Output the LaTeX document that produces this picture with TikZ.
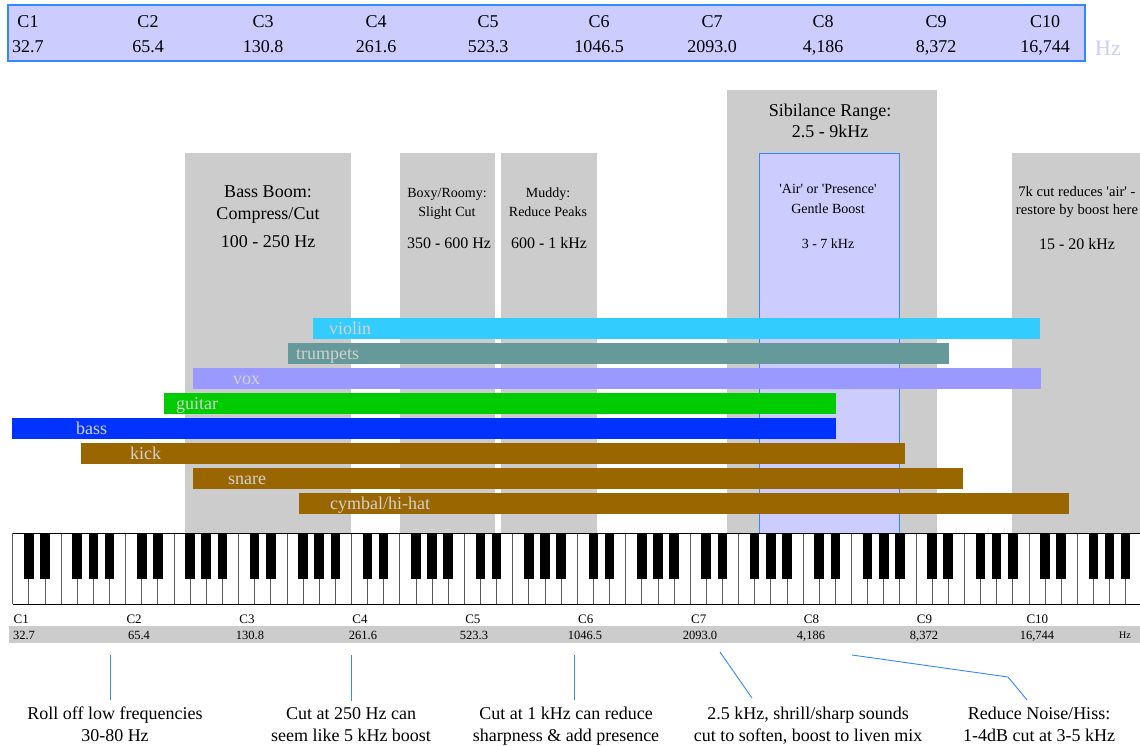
\documentclass[tikz,border=0pt]{standalone}
\usepackage{fontspec}
\setmainfont{Liberation Serif}[Ligatures=TeXOff]
\usetikzlibrary{positioning}
\definecolor{lav}{HTML}{CCCCFF}
\definecolor{edgeblue}{HTML}{3388FF}
\definecolor{zone}{HTML}{CCCCCC}
\definecolor{barlabel}{HTML}{D2D2D2}
\definecolor{violinc}{HTML}{33CCFF}
\definecolor{trumpetc}{HTML}{669999}
\definecolor{voxc}{HTML}{9999FF}
\definecolor{guitarc}{HTML}{00CC00}
\definecolor{bassc}{HTML}{0033FF}
\definecolor{drumc}{HTML}{996600}
\tikzset{
  big/.style={font=\fontsize{18}{22}\selectfont, inner sep=0pt, anchor=base},
  mid/.style={font=\fontsize{16}{19}\selectfont, inner sep=0pt, anchor=base},
  small/.style={font=\fontsize{14}{17}\selectfont, inner sep=0pt, anchor=base},
  keylab/.style={font=\fontsize{13}{15}\selectfont, inner sep=0pt, anchor=base},
  barname/.style={font=\fontsize{18}{22}\selectfont, text=barlabel, inner sep=0pt, anchor=base west},
  callout/.style={draw=edgeblue, line width=0.9pt}
}
\begin{document}
\begin{tikzpicture}[x=1pt,y=-1pt]
  \useasboundingbox[fill=white] (0,0) rectangle (1140,745);
  % note names and frequencies on top
  \draw[edgeblue, fill=lav, line width=1.2pt] (8,5) rectangle (1085,61);
  \foreach \n/\x/\f in {1/28/32.7, 2/148/65.4, 3/263/130.8, 4/376/261.6, 5/488/523.3,
      6/599/1046.5, 7/712/2093.0, 8/823/{4,186}, 9/936/{8,372}, 10/1045/{16,744}} {
    \node[big] (topC\n) at (\x,27) {C\n};
    \node[big] (topF\n) at (\x,52) {\f};
  }
  \node[font=\fontsize{22}{24}\selectfont, text=lav, inner sep=0pt, anchor=base] (tophz) at (1108,55) {Hz};
  % zones
  \fill[zone] (185,153) rectangle (351,533);
  \fill[zone] (400,153) rectangle (495,533);
  \fill[zone] (501,153) rectangle (597,533);
  \fill[zone] (727,90) rectangle (937,533);
  \draw[edgeblue, fill=lav, line width=1pt] (759,153) rectangle (899,533);
  \fill[zone] (1012,153) rectangle (1140,533);
  \node[big] (boom1) at (268,197) {Bass Boom:};
  \node[big] (boom2) at (268,219) {Compress/Cut};
  \node[big] (boomhz) at (268,247) {100 - 250 Hz};
  \node[small] (boxy1) at (447,197) {Boxy/Roomy:};
  \node[small] (boxy2) at (447,216) {Slight Cut};
  \node[mid] (boxyhz) at (449,248) {350 - 600 Hz};
  \node[small] (mud1) at (548,197) {Muddy:};
  \node[small] (mud2) at (548,216) {Reduce Peaks};
  \node[mid] (mudhz) at (549,248) {600 - 1 kHz};
  \node[big] (sib1) at (830,116) {Sibilance Range:};
  \node[big] (sib2) at (830,137) {2.5 - 9kHz};
  \node[small] (air1) at (828,193) {'Air' or 'Presence'};
  \node[small] (air2) at (828,213) {Gentle Boost};
  \node[small] (airhz) at (828,248) {3 - 7 kHz};
  \node[small, font=\fontsize{14.6}{17}\selectfont] (cut1) at (1077,196) {7k cut reduces 'air' -};
  \node[small, font=\fontsize{14.6}{17}\selectfont] (cut2) at (1077,214) {restore by boost here};
  \node[mid] (cuthz) at (1077,249) {15 - 20 kHz};
  % instrument ranges
  \foreach \r/\lx/\rx/\c/\tx/\nm in {0/313/1040/violinc/329/violin, 1/288/949/trumpetc/296/trumpets,
      2/193/1041/voxc/233/vox, 3/164/836/guitarc/176/guitar, 4/12/836/bassc/76/bass,
      5/81/905/drumc/130/kick, 6/193/963/drumc/228/snare, 7/299/1069/drumc/330/{cymbal/hi-hat}} {
    \fill[\c] (\lx,318+25*\r) rectangle (\rx,339+25*\r);
    \node[barname] (bar\r) at (\tx,334.5+25*\r) {\nm};
  }
  % keyboard
  \fill[white] (12.7,533) rectangle (1140,604);
  \foreach \k in {0,...,69}
    \draw[black!65, line width=0.8pt] (12.7+16.13*\k,533) -- ++(0,71);
  \foreach \o in {0,...,9}
    \foreach \b in {1,2,4,5,6}
      \fill[black] (12.7+16.13*7*\o+16.13*\b-4.8,533) rectangle ++(9.6,46);
  \draw[line width=1pt] (12.7,533) -- (1140,533);
  \draw[line width=1pt] (12.7,604) -- (1140,604);
  % frequencies under the keys
  \fill[zone] (9,626) rectangle (1140,643);
  \foreach \n/\x/\f in {1/24/32.7, 2/139/65.4, 3/250/130.8, 4/363/261.6, 5/474/523.3,
      6/585/1046.5, 7/700/2093.0, 8/811/{4,186}, 9/924/{8,372}, 10/1037/{16,744}} {
    \node[keylab] (keyC\n) at (12.7+112.91*\n-112.91+8.5,623) {C\n};
    \node[keylab, font=\fontsize{12.5}{14}\selectfont] (keyF\n) at (\x,639) {\f};
  }
  \node[keylab, font=\fontsize{10}{12}\selectfont] (keyhz) at (1125,638) {Hz};
  % tips
  \node[big] (roll1) at (115,719) {Roll off low frequencies};
  \node[big] (roll2) at (115,741) {30-80 Hz};
  \node[big] (boost1) at (351,719) {Cut at 250 Hz can};
  \node[big] (boost2) at (351,741) {seem like 5 kHz boost};
  \node[big] (sharp1) at (566,719) {Cut at 1 kHz can reduce};
  \node[big] (sharp2) at (566,741) {sharpness \& add presence};
  \node[big] (shrill1) at (808,719) {2.5 kHz, shrill/sharp sounds};
  \node[big] (shrill2) at (808,741) {cut to soften, boost to liven mix};
  \node[big] (hiss1) at (1039,719) {Reduce Noise/Hiss:};
  \node[big] (hiss2) at (1039,741) {1-4dB cut at 3-5 kHz};
  \coordinate (rolltop) at (110,655);
  \coordinate (boosttop) at (351,655);
  \coordinate (sharptop) at (574,655);
  \coordinate (shrilltop) at (720,652);
  \coordinate (shrillfoot) at (752,698);
  \coordinate (hisstop) at (852,655);
  \coordinate (hissbend) at (1008,677);
  \coordinate (hissfoot) at (1027,700);
  \draw[callout, shorten >=6pt] (rolltop) -- (rolltop |- roll1.north);
  \draw[callout, shorten >=6pt] (boosttop) -- (boosttop |- boost1.north);
  \draw[callout, shorten >=6pt] (sharptop) -- (sharptop |- sharp1.north);
  \draw[callout] (shrilltop) -- (shrillfoot);
  \draw[callout] (hisstop) -- (hissbend) -- (hissfoot);
\end{tikzpicture}
\end{document}
